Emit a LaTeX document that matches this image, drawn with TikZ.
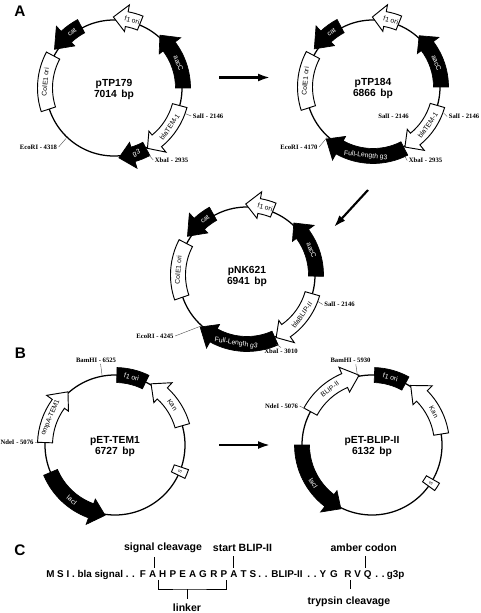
\documentclass[tikz,border=0pt]{standalone}
\usepackage{fontspec}
\setmainfont{Liberation Sans}
\newfontfamily\sitefont{Liberation Serif}
\usetikzlibrary{arrows.meta}
\tikzset{
  ringline/.style={draw=black, line width=0.95pt},
  blackgene/.style={draw=black, fill=black, text=white, line width=0.5pt},
  whitegene/.style={draw=black, fill=white, text=black, line width=0.7pt},
  genelabel/.style={font=\fontsize{5.1}{6}\selectfont, inner sep=0pt},
  boxlabel/.style={font=\fontsize{3.5}{4}\selectfont, inner sep=0pt},
  plasmidname/.style={font=\fontsize{7.7}{8.8}\selectfont\bfseries, align=center},
  sitelabel/.style={font=\fontsize{5}{6}\sitefont\bfseries\selectfont, inner sep=1pt},
  leader/.style={draw=black!70, line width=0.3pt},
  bigarrow/.style={-{Latex[length=9pt,width=6pt]}, line width=1.6pt},
  panel/.style={font=\fontsize{11.5}{12}\selectfont\bfseries},
  seqtext/.style={font=\fontsize{7.4}{9}\selectfont\bfseries, inner sep=0pt, anchor=base},
  seqlabel/.style={font=\fontsize{7.9}{9}\selectfont\bfseries, inner sep=0pt},
  seqline/.style={draw=black, line width=0.75pt},
}
% style, name, band radius, tail, head base, tip, label angle, text
\newcommand{\genearrow}[8]{%
  \pgfmathsetmacro{\labrot}{sin(#7)>=0 ? #7-90 : #7+90}
  \draw[#1] (#4:{#3+7.5}) arc[start angle=#4, end angle=#5, radius=#3+7.5]
    -- (#5:{#3+14.5}) -- (#6:{#3+1}) -- (#5:{#3-12.5}) -- (#5:{#3-7.5})
    arc[start angle=#5, end angle=#4, radius=#3-7.5] -- cycle
    (#7:#3) node[genelabel, rotate=\labrot] (#2) {#8};
}
% style, name, band radius, from, to, text, label style
\newcommand{\genebox}[7]{%
  \pgfmathsetmacro{\labang}{(#4+#5)/2}
  \pgfmathsetmacro{\labrot}{sin(\labang)>=0 ? \labang-90 : \labang+90}
  \draw[#1] (#4:{#3+7.5}) arc[start angle=#4, end angle=#5, radius=#3+7.5]
    -- (#5:{#3-7.5}) arc[start angle=#5, end angle=#4, radius=#3-7.5] -- cycle
    (\labang:#3) node[#7, rotate=\labrot] (#2) {#6};
}
% name, x, y, text, anchor, leader end x, leader end y
\newcommand{\sitemark}[7]{%
  \node[sitelabel] (#1) at (#2,#3) {#4};
  \coordinate (#1-end) at (#6,#7);
  \draw[leader] (#1.#5) -- (#1-end);
}
\begin{document}
\begin{tikzpicture}[x=0.75pt,y=-0.75pt]
  \useasboundingbox (0,0) rectangle (480,613);
  \node[panel] (panelA) at (20,11) {A};
  \node[panel] (panelB) at (20.5,353) {B};
  \node[panel] (panelC) at (20,550) {C};

  % pTP179
  \begin{scope}[shift={(114,88)},yscale=-1,name prefix=tp179-]
    \draw[ringline] (0,0) circle[radius=68];
    \node[plasmidname] (name) at (0,-1.5) {pTP179\\7014\, bp};
    \genearrow{whitegene}{f1}{70}{68}{79.5}{90.5}{75}{f1 ori}
    \genearrow{blackgene}{cat}{70}{118}{133}{147}{127}{cat}
    \genearrow{blackgene}{aac}{69}{0}{37}{49}{21}{aacC}
    \genearrow{whitegene}{bla}{68}{-15}{-51}{-61}{-35}{blaTEM-1}
    \genearrow{blackgene}{gIII}{69}{-62}{-74}{-86}{-71}{g3}
    \genebox{whitegene}{cole}{69}{152}{198}{ColE1 ori}{genelabel}
  \end{scope}
  \sitemark{sal179}{208}{116}{SalI - 2146}{west}{185}{113.5}
  \sitemark{xba179}{171.5}{160}{XbaI - 2935}{west}{149}{155}
  \sitemark{eco179}{38.5}{147}{EcoRI - 4318}{east}{66}{138.5}

  % pTP184
  \begin{scope}[shift={(373,87)},yscale=-1,name prefix=tp184-]
    \draw[ringline] (0,0) circle[radius=67];
    \node[plasmidname] (name) at (0,-1.5) {pTP184\\6866\, bp};
    \genearrow{whitegene}{f1}{69}{68}{80}{90.5}{75}{f1 ori}
    \genearrow{blackgene}{cat}{69}{118}{133}{147}{127}{cat}
    \genearrow{blackgene}{aac}{68}{0}{37}{48}{21}{aacC}
    \genearrow{whitegene}{bla}{67}{-16}{-51}{-62}{-35}{blaTEM-1}
    \genearrow{blackgene}{gIII}{69}{-63}{-119}{-132}{-96}{Full-Length g3}
    \genebox{whitegene}{cole}{68}{152}{198}{ColE1 ori}{genelabel}
  \end{scope}
  \node[sitelabel] (sal184b) at (393.5,116) {SalI - 2146};
  \sitemark{sal184}{464}{116.5}{SalI - 2146}{west}{444}{113.5}
  \sitemark{xba184}{425.5}{160.5}{XbaI - 2935}{west}{405}{156.5}
  \sitemark{eco184}{299}{147}{EcoRI - 4170}{east}{327}{137.5}

  % pNK621
  \begin{scope}[shift={(247,275)},yscale=-1,name prefix=nk621-]
    \draw[ringline] (0,0) circle[radius=68];
    \node[plasmidname] (name) at (0,-1.5) {pNK621\\6941\, bp};
    \genearrow{whitegene}{f1}{70}{68}{80}{91}{75}{f1 ori}
    \genearrow{blackgene}{cat}{70}{119}{133}{147}{127}{cat}
    \genearrow{blackgene}{aac}{69}{-1}{36.5}{48}{21}{aacC}
    \genearrow{whitegene}{bla}{68}{-16}{-55}{-65}{-36}{blaBLIP-II}
    \genearrow{blackgene}{gIII}{69}{-66}{-119}{-132}{-99}{Full-Length g3}
    \genebox{whitegene}{cole}{69}{152.5}{199}{ColE1 ori}{genelabel}
  \end{scope}
  \sitemark{sal621}{339.5}{304.5}{SalI - 2146}{west}{318}{301.5}
  \sitemark{xba621}{281}{351.5}{XbaI - 3010}{north}{276}{344}
  \sitemark{eco621}{155}{336}{EcoRI - 4245}{east}{201}{326}

  % pET-TEM1
  \begin{scope}[shift={(115,445)},yscale=-1,name prefix=tem1-]
    \draw[ringline] (0,0) circle[radius=70];
    \node[plasmidname] (name) at (0,-1.5) {pET-TEM1\\6727\, bp};
    \genebox{blackgene}{f1}{70}{64}{88.5}{f1 ori}{genelabel}
    \genearrow{whitegene}{kan}{70}{16}{47.5}{59.5}{35}{Kan}
    \genebox{whitegene}{ss}{70}{-25.5}{-18.5}{S}{boxlabel}
    \genearrow{blackgene}{lac}{70}{203}{250}{262}{232}{lacI}
    \genearrow{whitegene}{omp}{70}{178}{144}{131.5}{157}{ompA-TEM1}
  \end{scope}
  \sitemark{bam6525}{96}{360}{BamHI - 6525}{-40}{102}{375}
  \sitemark{nde5076a}{17}{442.5}{NdeI - 5076}{east}{38.5}{443}

  % pET-BLIP-II
  \begin{scope}[shift={(372,445)},yscale=-1,name prefix=blip-]
    \draw[ringline] (0,0) circle[radius=70];
    \node[plasmidname] (name) at (0,-1.5) {pET-BLIP-II\\6132\, bp};
    \genebox{blackgene}{f1}{70}{61.5}{88}{f1 ori}{genelabel}
    \genearrow{whitegene}{kan}{70}{9}{44.5}{57}{28}{Kan}
    \genebox{whitegene}{ss}{70}{-36}{-29.5}{S}{boxlabel}
    \genearrow{blackgene}{lac}{70}{180}{232.5}{244}{213}{lacI}
    \genearrow{whitegene}{blipii}{70}{151.5}{113}{100.5}{127}{BLIP-II}
  \end{scope}
  \sitemark{bam5930}{350.5}{360.5}{BamHI - 5930}{-36}{357.5}{376}
  \sitemark{nde5076b}{281.5}{406}{NdeI - 5076}{east}{305.5}{409}

  % big arrows
  \coordinate (arrowAfrom) at (219,77.5);
  \coordinate (arrowAto) at (270,77.5);
  \coordinate (arrowBfrom) at (368,190);
  \coordinate (arrowBto) at (334,227);
  \coordinate (arrowCfrom) at (219,445);
  \coordinate (arrowCto) at (270,445);
  \foreach \a/\b in {arrowAfrom/arrowAto,arrowBfrom/arrowBto,arrowCfrom/arrowCto}
    \draw[bigarrow] (\a) -- (\b);

  % sequence
  \node[seqtext, anchor=base west] (seqhead) at (46,577.5) {M S I . bla signal . .};
  \foreach \x/\t/\n in {143/F/F1,152.7/A/A1,162.7/H/H1,173/P/P1,182.7/E/E1,192.7/A/A2,203/G/G1,214/R/R1,224/P/P2,234/A/A3,243.7/T/T1,253/S/S1,263/. ./dotsa,287/BLIP-II/blip,312/. ./dotsb,323/Y/Y1,334/G/G2,348/R/R2,357.7/V/V1,367.7/Q/Q1,380/. ./dotsc,395.7/g3p/gIIIp}
    \node[seqtext] (\n) at (\x,577.5) {\t};
  \node[seqlabel] (sigcleave) at (163,548) {signal cleavage};
  \node[seqlabel] (startblip) at (242.5,548) {start BLIP-II};
  \node[seqlabel] (amber) at (363.7,548) {amber codon};
  \node[seqlabel] (trypsin) at (349,602) {trypsin cleavage};
  \node[seqlabel] (linker) at (187,608) {linker};
  \foreach \r/\l/\s in {A1/sigcleave/1.7pt,A3/startblip/-0.7pt,Q1/amber/-2pt}
    \draw[seqline] ([xshift=\s,yshift=2pt]\r.north) -- ([xshift=\s,yshift=-3pt]\r.north |- \l.south);
  \draw[seqline] ([xshift=1.5pt,yshift=-1.5pt]R2.south) -- ([xshift=1.5pt,yshift=6pt]R2.south |- trypsin.north);
  \coordinate (bracketL) at ([xshift=-3.4pt,yshift=-1.5pt]H1.south);
  \coordinate (bracketR) at ([xshift=1.5pt,yshift=-1.5pt]P2.south);
  \coordinate (bracketB) at (linker.north |- 0,589);
  \draw[seqline] (bracketL) |- (bracketB) -| (bracketR);
  \draw[seqline] (bracketB) -- ([yshift=4pt]linker.north);
\end{tikzpicture}
\end{document}
